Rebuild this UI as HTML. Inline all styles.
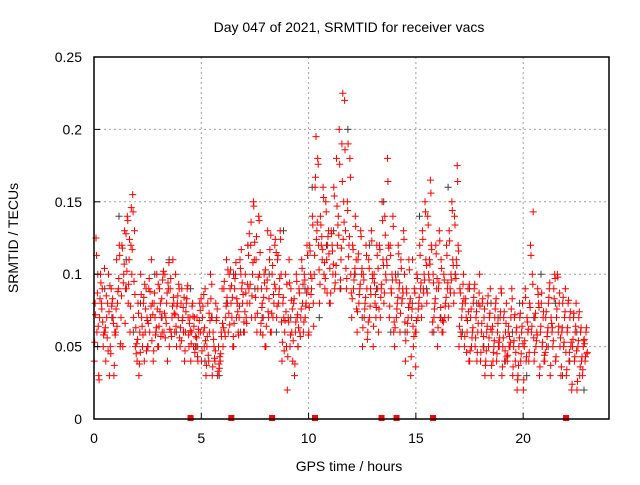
<!DOCTYPE html>
<html><head><meta charset="utf-8"><style>
body{margin:0;background:#fff}
svg text{font-family:"Liberation Sans",sans-serif;font-size:14px;fill:#000}
</style></head><body>
<svg id="chart" width="640" height="480" viewBox="0 0 640 480" xmlns="http://www.w3.org/2000/svg">
<rect width="640" height="480" fill="#fff"/>
<g id="grid"></g>
<g id="gray"></g>
<g id="red"></g>
<g id="marks"></g>
<rect x="94" y="57" width="515" height="362" fill="none" stroke="#000" stroke-width="1.5"/>
<g id="axes"></g>
<text x="349" y="32" text-anchor="middle">Day 047 of 2021, SRMTID for receiver vacs</text>
<text x="349" y="471" text-anchor="middle">GPS time / hours</text>
<text transform="translate(18,238) rotate(-90)" text-anchor="middle">SRMTID / TECUs</text>
</svg>
<script>
const xTicks=[0,5,10,15,20];
const yTicks=[0,0.05,0.1,0.15,0.2,0.25];
const yTickLabels=["0","0.05","0.1","0.15","0.2","0.25"];
const markerHours=[4.5,6.4,8.3,10.3,13.4,14.1,15.8,22.0];
const binWidth=0.25;
const redVals=[
[.04,.06,.08,.1,.125,.03],[.07,.09,.1,.05,.08,.06],[.06,.08,.04,.1,.07,.03],[.05,.07,.09,.03,.08,.06],
[.06,.09,.11,.12,.08,.05],[.07,.1,.12,.13,.05,.09],[.09,.11,.14,.06,.08,.12],[.1,.13,.155,.05,.07,.045],
[.04,.06,.08,.1,.03,.07],[.05,.06,.08,.09,.04,.07],[.05,.07,.09,.11,.06,.08],[.04,.06,.08,.1,.07,.05],
[.05,.07,.09,.06,.08,.1],[.06,.08,.1,.04,.07,.09],[.05,.07,.09,.11,.06,.08],[.06,.08,.1,.07,.05,.09],
[.05,.07,.08,.06,.09,.04],[.06,.07,.08,.05,.09,.07],[.04,.05,.06,.07,.08,.05],[.05,.06,.07,.08,.04,.06],
[.04,.05,.07,.09,.06,.03],[.05,.06,.08,.1,.04,.07],[.03,.04,.06,.08,.05,.07],[.03,.04,.05,.06,.035,.09],
[.05,.07,.09,.11,.06,.08],[.06,.08,.1,.07,.09,.05],[.05,.07,.09,.08,.1,.06],[.07,.09,.11,.08,.1,.06],
[.06,.08,.1,.12,.07,.09],[.08,.1,.12,.15,.07,.11],[.07,.09,.11,.14,.06,.1],[.06,.07,.09,.1,.08,.05],
[.05,.07,.09,.11,.13,.06],[.06,.08,.1,.12,.07,.09],[.07,.09,.11,.13,.08,.1],[.04,.06,.08,.1,.07,.05],
[.02,.05,.07,.09,.11,.06],[.04,.06,.08,.1,.03,.07],[.05,.07,.09,.11,.06,.08],[.06,.08,.1,.12,.07,.09],
[.06,.09,.12,.14,.1,.08],[.1,.13,.16,.18,.195,.12],[.08,.11,.14,.16,.12,.1],[.09,.12,.15,.13,.11,.08],
[.08,.1,.13,.16,.12,.09],[.1,.14,.18,.2,.12,.09],[.11,.15,.19,.22,.225,.13],[.09,.12,.15,.18,.19,.1],
[.07,.1,.12,.14,.09,.11],[.06,.09,.11,.13,.08,.1],[.05,.08,.1,.12,.07,.09],[.06,.09,.11,.13,.07,.1],
[.05,.07,.1,.12,.08,.09],[.06,.09,.12,.15,.07,.11],[.08,.11,.14,.18,.1,.12],[.07,.1,.12,.14,.09,.06],
[.05,.08,.1,.12,.07,.09],[.06,.09,.11,.13,.08,.1],[.04,.07,.09,.11,.06,.08],[.03,.05,.07,.09,.11,.06],
[.06,.08,.1,.12,.07,.09],[.07,.1,.13,.15,.09,.11],[.08,.11,.14,.165,.1,.12],[.06,.08,.1,.12,.07,.09],
[.05,.07,.09,.11,.13,.06],[.06,.08,.1,.12,.07,.09],[.07,.1,.13,.15,.09,.11],[.08,.11,.14,.175,.1,.12],
[.05,.07,.09,.08,.06,.1],[.05,.06,.08,.09,.07,.04],[.04,.06,.07,.08,.05,.09],[.05,.06,.07,.08,.04,.1],
[.04,.05,.06,.07,.08,.03],[.04,.05,.06,.07,.08,.09],[.03,.05,.06,.07,.04,.08],[.04,.05,.06,.07,.05,.09],
[.03,.04,.05,.06,.07,.08],[.04,.05,.06,.07,.05,.09],[.03,.04,.05,.06,.07,.02],[.03,.04,.05,.06,.07,.08],
[.02,.04,.05,.07,.09,.06],[.04,.06,.08,.1,.12,.143],[.04,.06,.07,.09,.05,.08],[.03,.05,.06,.07,.08,.04],
[.04,.06,.07,.08,.05,.09],[.03,.05,.07,.09,.06,.1],[.04,.06,.07,.08,.1,.05],[.03,.05,.06,.07,.08,.09],
[.03,.04,.06,.07,.08,.05],[.02,.04,.05,.06,.07,.08],[.02,.03,.05,.06,.07,.04],[.03,.04,.05,.06,.055,.045]
];
const redVals2=[
[.053,.087,.072,.064,.113,.027],[.083,.067,.094,.058,.076,.104],[.063,.047,.085,.074,.056,.092],[.045,.066,.078,.037,.083,.058],
[.076,.097,.064,.113,.088,.052],[.085,.107,.118,.066,.094,.128],[.102,.124,.137,.078,.093,.146],[.117,.086,.143,.063,.095,.052],
[.055,.046,.073,.086,.038,.064],[.058,.076,.084,.047,.093,.068],[.066,.078,.097,.054,.088,.072],[.047,.063,.087,.076,.058,.093],
[.064,.083,.074,.096,.057,.102],[.073,.087,.056,.094,.066,.108],[.062,.078,.097,.084,.057,.073],[.072,.085,.064,.093,.078,.056],
[.063,.077,.054,.084,.068,.047],[.074,.058,.083,.066,.092,.061],[.052,.064,.078,.046,.071,.057],[.056,.068,.043,.075,.062,.083],
[.047,.063,.078,.054,.086,.037],[.057,.068,.044,.083,.073,.093],[.036,.047,.055,.068,.042,.076],[.033,.045,.038,.057,.043,.066],
[.063,.078,.095,.084,.057,.103],[.073,.092,.065,.084,.103,.057],[.066,.083,.097,.074,.108,.058],[.078,.094,.104,.086,.117,.067],
[.074,.093,.087,.113,.066,.128],[.093,.108,.136,.147,.085,.122],[.084,.098,.126,.137,.073,.115],[.066,.084,.077,.094,.058,.103],
[.064,.083,.096,.117,.074,.127],[.073,.093,.106,.124,.086,.115],[.078,.097,.113,.124,.086,.067],[.053,.068,.084,.074,.047,.093],
[.043,.058,.067,.082,.094,.076],[.054,.067,.083,.095,.038,.072],[.063,.076,.087,.104,.057,.093],[.067,.087,.096,.113,.078,.058],
[.077,.097,.116,.134,.086,.064],[.113,.136,.167,.176,.124,.103],[.093,.117,.134,.153,.126,.108],[.097,.126,.143,.114,.087,.104],
[.087,.107,.128,.154,.116,.094],[.106,.127,.147,.176,.134,.096],[.118,.136,.164,.186,.124,.104],[.097,.126,.144,.167,.112,.087],
[.083,.104,.117,.133,.096,.076],[.074,.093,.114,.126,.086,.104],[.063,.084,.096,.113,.076,.055],[.067,.086,.104,.123,.078,.097],
[.064,.077,.094,.113,.086,.104],[.076,.093,.117,.137,.084,.106],[.087,.106,.127,.164,.096,.118],[.078,.096,.113,.133,.087,.067],
[.063,.084,.096,.114,.076,.094],[.073,.087,.104,.124,.083,.067],[.054,.077,.087,.103,.066,.083],[.043,.057,.076,.087,.064,.036],
[.068,.084,.097,.113,.076,.094],[.078,.096,.124,.143,.087,.106],[.087,.107,.134,.156,.096,.117],[.067,.083,.094,.114,.076,.097],
[.063,.077,.094,.104,.123,.068],[.067,.084,.096,.113,.078,.094],[.078,.096,.123,.144,.087,.106],[.087,.106,.134,.164,.097,.116],
[.064,.076,.087,.093,.057,.083],[.057,.068,.083,.074,.046,.093],[.047,.063,.076,.084,.056,.093],[.056,.066,.074,.087,.046,.078],
[.046,.057,.066,.076,.083,.037],[.047,.056,.064,.073,.085,.062],[.037,.054,.064,.076,.046,.083],[.045,.056,.066,.074,.053,.087],
[.036,.047,.056,.066,.074,.043],[.044,.053,.064,.076,.057,.083],[.036,.046,.054,.063,.072,.027],[.037,.045,.056,.064,.073,.052],
[.027,.043,.054,.067,.084,.062],[.046,.064,.077,.093,.113,.056],[.046,.058,.073,.086,.054,.077],[.036,.053,.064,.074,.087,.044],
[.046,.063,.074,.084,.057,.094],[.037,.054,.066,.083,.063,.097],[.043,.064,.076,.087,.098,.056],[.036,.053,.063,.074,.084,.046],
[.034,.046,.063,.074,.082,.053],[.024,.043,.055,.064,.073,.047],[.026,.036,.054,.063,.074,.043],[.034,.043,.054,.063,.052,.046]
];
const grayVals=[
[.05,.09,.07],[.14,.11,.06],[.08,.05,.1],[.07,.11,.06],[.06,.09,.05],[.04,.07,.03],
[.08,.1,.06],[.12,.09,.07],[.1,.06,.13],[.07,.05,.09],[.16,.07,.12],[.13,.09,.2],
[.1,.07,.12],[.09,.15,.06],[.1,.06,.08],[.14,.09,.06],[.07,.16,.1],[.06,.09,.08],
[.05,.08,.07],[.04,.06,.08],[.03,.07,.1],[.05,.08,.03],[.04,.06,.02]
];
const X=h=>94+h*(515/24);
const Y=v=>419-v*(362/0.25);
const NS="http://www.w3.org/2000/svg";
function mk(tag,attrs,parent){const e=document.createElementNS(NS,tag);for(const k in attrs)e.setAttribute(k,attrs[k]);parent.appendChild(e);return e;}
const grid=document.getElementById('grid'),axes=document.getElementById('axes');
xTicks.forEach(t=>{
  if(t>0){const l=mk('line',{x1:X(t),x2:X(t),y1:57,y2:419,stroke:'#a0a0a0','stroke-dasharray':'2,3'},grid);
  
  }
  const tk=mk('line',{x1:X(t),x2:X(t),y1:419,y2:413,stroke:'#000'},axes);
  
  
  const tx=mk('text',{x:X(t),y:443,'text-anchor':'middle'},axes);tx.textContent=t;
  
  
});
yTicks.forEach((v,i)=>{
  if(v>0&&v<0.25){const l=mk('line',{x1:94,x2:609,y1:Y(v),y2:Y(v),stroke:'#a0a0a0','stroke-dasharray':'2,3'},grid);
  
  }
  const tk=mk('line',{x1:94,x2:100,y1:Y(v),y2:Y(v),stroke:'#000'},axes);
  
  
  const tx=mk('text',{x:82,y:Y(v)+5,'text-anchor':'end'},axes);tx.textContent=yTickLabels[i];
  
  
});
function plus(x,y){return `M${(x-3.5).toFixed(1)} ${y.toFixed(1)}h7M${x.toFixed(1)} ${(y-3.5).toFixed(1)}v7`;}
let gd='';
grayVals.forEach((arr,i)=>arr.forEach((v,j)=>{gd+=plus(X(i+(j+0.5)/arr.length),Y(v));}));
const gp=mk('path',{d:gd,stroke:'#404040','stroke-width':1,fill:'none'},document.getElementById('gray'));


const order=[0,3,1,4,2,5];
let rd='';
redVals.forEach((arr,i)=>arr.forEach((v,j)=>{rd+=plus(X(i*binWidth+(order[j]+0.25)*binWidth/arr.length),Y(v));}));
redVals2.forEach((arr,i)=>arr.forEach((v,j)=>{rd+=plus(X(i*binWidth+(order[j]+0.75)*binWidth/arr.length),Y(v));}));
const rp=mk('path',{d:rd,stroke:'#ff0000','stroke-width':1,fill:'none'},document.getElementById('red'));


markerHours.forEach(h=>{
  const r=mk('rect',{x:X(h)-3,y:415,width:6,height:6,fill:'#ff0000'},document.getElementById('marks'));
  
  
});
</script>
</body></html>
